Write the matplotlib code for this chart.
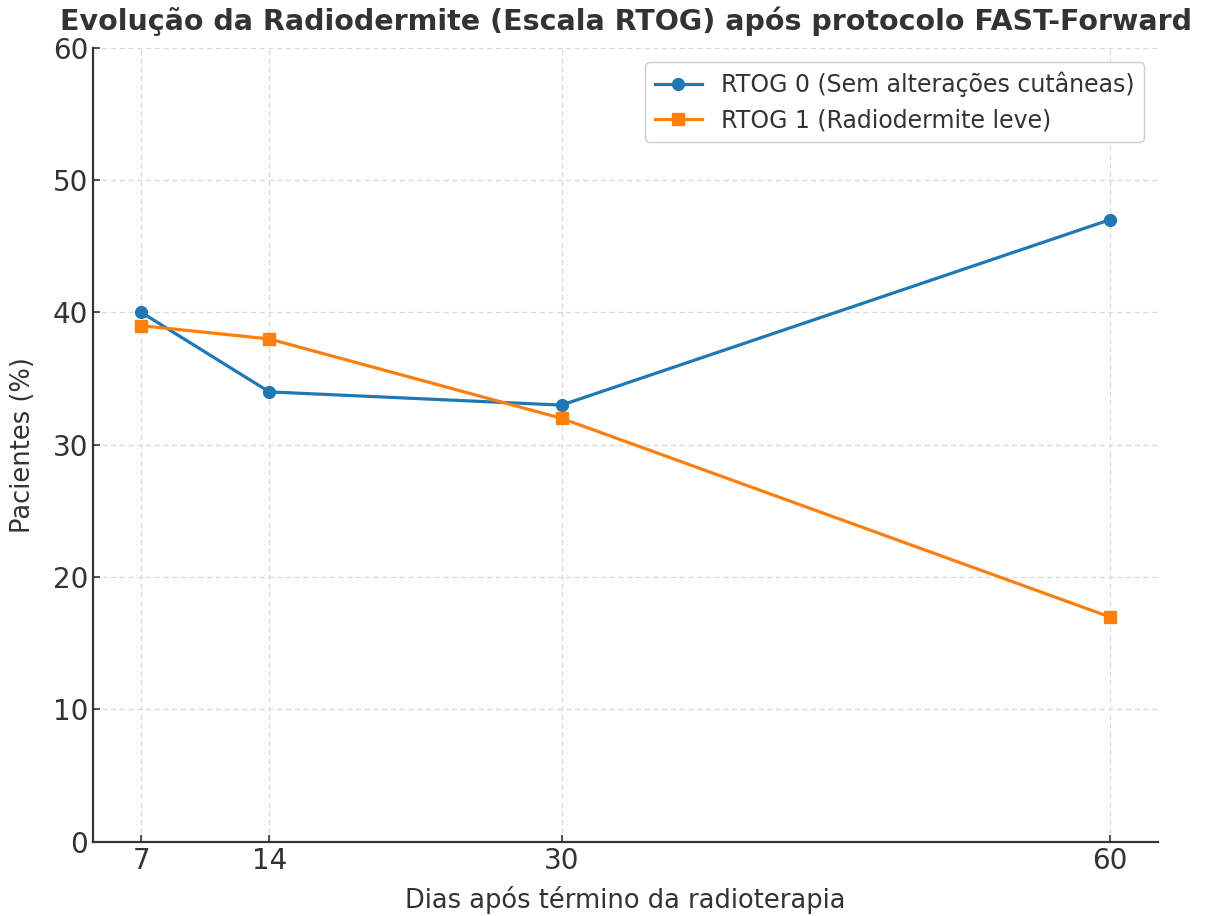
import matplotlib
matplotlib.use("Agg")
import matplotlib.pyplot as plt

# data
dias = [7, 14, 30, 60]
rtog0 = [40, 34, 33, 47]
rtog1 = [39, 38, 32, 17]
label0 = "RTOG 0 (Sem alterações cutâneas)"
label1 = "RTOG 1 (Radiodermite leve)"

plt.rcParams["font.family"] = ["DejaVu Sans"]
plt.rcParams["text.color"] = "#333333"
plt.rcParams["axes.labelcolor"] = "#333333"
plt.rcParams["xtick.color"] = "#333333"
plt.rcParams["ytick.color"] = "#333333"

fig = plt.figure(figsize=(12.08, 9.16), dpi=100)
ax = fig.add_axes([0.077, 0.081, 0.8816, 0.8668])

ax.plot(dias, rtog0, marker="o", color="#1f77b4", lw=2.3, ms=8.5, label=label0)
ax.plot(dias, rtog1, marker="s", color="#ff7f0e", lw=2.3, ms=8.5, label=label1)

ax.set_ylim(0, 60)
ax.set_xticks(dias)
ax.tick_params(direction="in", labelsize=20, length=5, width=1.2)
ax.grid(True, linestyle=(0, (4, 3)), color="#d9d9d9", lw=0.9)
for side in ("top", "right"):
    ax.spines[side].set_visible(False)
for side in ("left", "bottom"):
    ax.spines[side].set_color("#333333")
    ax.spines[side].set_linewidth(1.6)

ax.set_xlabel("Dias após término da radioterapia", fontsize=18.5, labelpad=8)
ax.set_ylabel("Pacientes (%)", fontsize=18.5, labelpad=12)
ax.set_title("Evolução da Radiodermite (Escala RTOG) após protocolo FAST-Forward",
             fontsize=20.5, fontweight="bold", pad=13)
ax.legend(fontsize=17, loc="upper right", framealpha=1, edgecolor="#cccccc",
          borderaxespad=0.6)

fig.savefig("out.png", dpi=100)
